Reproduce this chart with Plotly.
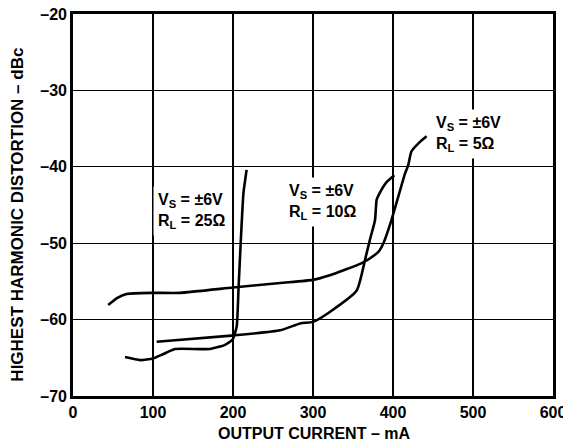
import plotly.graph_objects as go

# 25 ohm load
x_25 = [65, 84, 100, 113, 127.5, 171, 190, 199.6, 204.6, 207, 209.6, 213, 217]
y_25 = [-64.9, -65.3, -65.1, -64.5, -63.85, -63.85, -63.3, -62.6, -60.9, -55.7, -50, -43.5, -40.4]

# 10 ohm load
x_10 = [104.6, 198, 259, 284, 300, 321, 354.6, 365, 371, 377.5, 379.6, 384, 392, 401.7]
y_10 = [-62.9, -62.1, -61.4, -60.5, -60.3, -59.0, -56.2, -52.2, -49.6, -47, -44.3, -43.3, -42, -41.1]

# 5 ohm load
x_5 = [44, 55, 67, 100, 134, 200, 259, 300, 321, 361, 371, 382, 388, 398, 415, 419, 423, 434, 442]
y_5 = [-58.1, -57.2, -56.65, -56.5, -56.5, -55.8, -55.2, -54.8, -54.2, -52.6, -52.0, -51.1, -50.0,
       -47, -40.9, -39.8, -38.0, -36.7, -36.0]

x_ticks = [0, 100, 200, 300, 400, 500, 600]
x_ticktext = ["0", "100", "200", "300", "400", "500", "600"]
y_ticks = [-70, -60, -50, -40, -30, -20]
y_ticktext = ["–70", "–60", "–50", "–40", "–30", "–20"]

labels = [
    ("V<sub>S</sub> = ±6V<br>R<sub>L</sub> = 25Ω", 99.5, -45.8),
    ("V<sub>S</sub> = ±6V<br>R<sub>L</sub> = 10Ω", 264, -44.6),
    ("V<sub>S</sub> = ±6V<br>R<sub>L</sub> = 5Ω", 447.5, -35.7),
]

x_title = "OUTPUT CURRENT – mA"
y_title = "HIGHEST HARMONIC DISTORTION – dBc"

FONT = "Liberation Sans, Arial, sans-serif"

fig = go.Figure()
for xs, ys in [(x_25, y_25), (x_10, y_10), (x_5, y_5)]:
    fig.add_trace(go.Scatter(x=xs, y=ys, mode="lines",
                             line=dict(color="black", width=2.6, shape="spline", smoothing=0.5),
                             showlegend=False, hoverinfo="skip"))

for txt, xv, yv in labels:
    fig.add_annotation(x=xv, y=yv, xref="x", yref="y", text="<b>" + txt + "</b>",
                       showarrow=False, xanchor="left", yanchor="middle", align="left",
                       bgcolor="white", borderpad=4,
                       font=dict(family=FONT, size=16, color="black"))

# axis titles
fig.add_annotation(x=0.502, y=-0.099, xref="paper", yref="paper", text="<b>%s</b>" % x_title,
                   showarrow=False, xanchor="center", yanchor="middle",
                   font=dict(family=FONT, size=16, color="black"))
fig.add_annotation(x=-0.1165, y=0.475, xref="paper", yref="paper", text="<b>%s</b>" % y_title,
                   showarrow=False, xanchor="center", yanchor="middle", textangle=-90,
                   font=dict(family=FONT, size=17, color="black"))

fig.update_layout(
    width=563, height=444,
    margin=dict(l=73, r=10, t=14, b=48, autoexpand=False),
    paper_bgcolor="white", plot_bgcolor="white",
    font=dict(family=FONT, color="black"),
)
fig.update_xaxes(range=[0, 600], tickvals=x_ticks, ticktext=["<b>%s</b>" % t for t in x_ticktext],
                 showgrid=True, gridcolor="black", gridwidth=1.3, zeroline=False,
                 showline=True, linecolor="black", linewidth=2.8, mirror=True,
                 ticks="", automargin=False, ticklabeloverflow="allow",
                 tickfont=dict(family=FONT, size=16, color="black"))
fig.update_yaxes(range=[-70, -20], tickvals=y_ticks, ticktext=["<b>%s</b>" % t for t in y_ticktext],
                 showgrid=True, gridcolor="black", gridwidth=1.3, zeroline=False,
                 showline=True, linecolor="black", linewidth=2.8, mirror=True,
                 ticks="", automargin=False, ticklabeloverflow="allow",
                 tickfont=dict(family=FONT, size=16, color="black"))

fig.write_html("out.html", config={"displayModeBar": False, "staticPlot": True},
               post_script="document.body.style.margin='0';document.body.style.overflow='hidden';")
